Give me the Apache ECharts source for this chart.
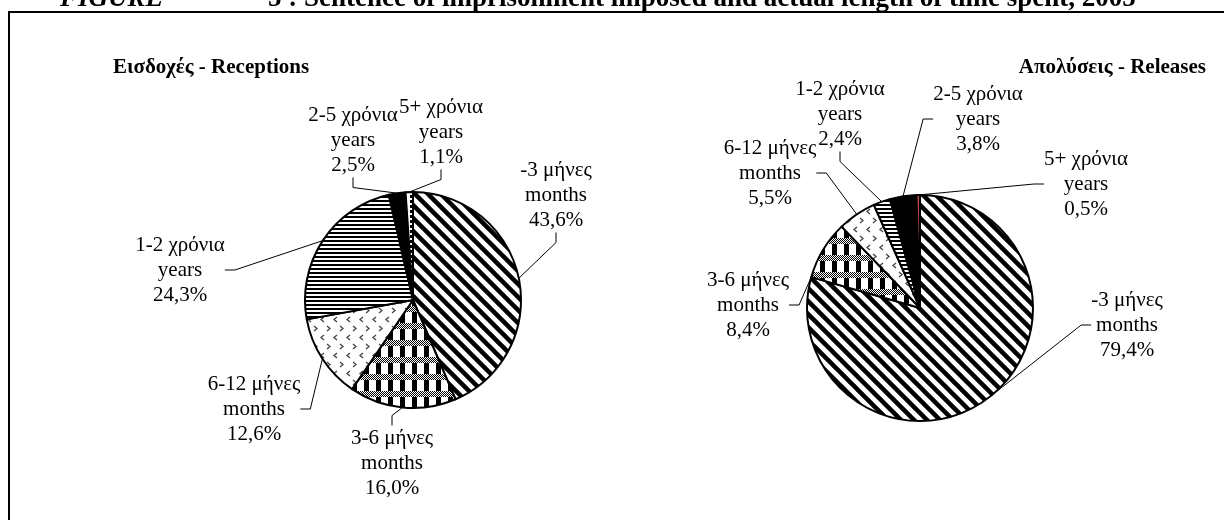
<!DOCTYPE html>
<html>
<head>
<meta charset="utf-8">
<script src="https://cdn.jsdelivr.net/npm/echarts@6/dist/echarts.min.js"></script>
<style>
html,body{margin:0;padding:0;background:#fff;}
#chart{width:1224px;height:520px;}
</style>
</head>
<body>
<div id="chart"></div>
<script>
// ---- data ----
const categories = ['-3 μήνες\nmonths', '3-6 μήνες\nmonths', '6-12 μήνες\nmonths', '1-2 χρόνια\nyears', '2-5 χρόνια\nyears', '5+ χρόνια\nyears'];
const receptionsValues = [43.6, 16.0, 12.6, 24.3, 2.5, 1.1];
const releasesValues = [79.4, 8.4, 5.5, 2.4, 3.8, 0.5];
const figureTitle = '5 : Sentence of imprisonment imposed and actual length of time spent, 2005';
const receptionsTitle = 'Εισδοχές - Receptions';
const releasesTitle = 'Απολύσεις - Releases';

// ---- label positions (centre of label block, px) ----
const receptionsLabelPos = [[556, 195], [392, 463], [254, 409], [180, 270], [353, 140], [441, 132]];
const releasesLabelPos = [[1127, 325], [748, 305], [770, 173], [840, 114], [978, 119], [1086, 184]];

// ---- patterns ----
function tile(w, h, draw) {
  const c = document.createElement('canvas');
  c.width = w; c.height = h;
  const ctx = c.getContext('2d');
  ctx.fillStyle = '#fff';
  ctx.fillRect(0, 0, w, h);
  draw(ctx, w, h);
  return { image: c, repeat: 'repeat' };
}
const diagPattern = tile(13, 13, (ctx, s) => {
  ctx.strokeStyle = '#000'; ctx.lineWidth = 4.5;
  for (const k of [-s, 0, s]) { ctx.beginPath(); ctx.moveTo(k - 2, -2); ctx.lineTo(k + s + 2, s + 2); ctx.stroke(); }
});
const plaidPattern = tile(12, 17, (ctx) => {
  ctx.fillStyle = '#000';
  ctx.fillRect(4, 0, 5, 17);
  for (let y = 0; y < 6; y++) for (let x = 0; x < 12; x++) {
    ctx.fillStyle = ((x + y) % 2 === 0) ? '#000' : '#fff';
    ctx.fillRect(x, y, 1, 1);
  }
});
const chevronPattern = tile(13, 18, (ctx) => {
  ctx.strokeStyle = '#444'; ctx.lineWidth = 1.3;
  ctx.beginPath(); ctx.moveTo(2, 2); ctx.lineTo(5, 4.5); ctx.lineTo(2, 7); ctx.stroke();
  ctx.beginPath(); ctx.moveTo(12, 11); ctx.lineTo(9, 13.5); ctx.lineTo(12, 16); ctx.stroke();
});
const hlinePattern = tile(4, 4, (ctx) => { ctx.fillStyle = '#000'; ctx.fillRect(0, 0, 4, 2); });
const dashPattern = tile(6, 5, (ctx) => { ctx.fillStyle = '#000'; ctx.fillRect(2, 0, 2, 3); });

const receptionsFills = [diagPattern, plaidPattern, chevronPattern, hlinePattern, '#000', dashPattern];
const releasesFills = [diagPattern, plaidPattern, chevronPattern, hlinePattern, '#000', '#c04848'];

const FONT = '"Liberation Serif", "Times New Roman", serif';

function fmt(p) {
  return p.name + '\n' + p.value.toFixed(1).replace('.', ',') + '%';
}
function pieSeries(values, fills, labelPos, center, radius) {
  return {
    type: 'pie',
    center: center,
    radius: radius,
    startAngle: 90,
    clockwise: true,
    avoidLabelOverlap: false,
    animation: false,
    silent: true,
    data: values.map((v, i) => ({ name: categories[i], value: v, itemStyle: { color: fills[i] } })),
    itemStyle: { borderColor: '#000', borderWidth: 2 },
    label: {
      show: true, position: 'outside', formatter: fmt,
      fontFamily: FONT, fontSize: 21, lineHeight: 25, color: '#000', align: 'center'
    },
    labelLine: { show: true, length: 14, length2: 10, smooth: false, lineStyle: { color: '#000', width: 1 } },
    labelLayout: function (params) {
      const p = labelPos[params.dataIndex];
      return { x: p[0], y: p[1], align: 'center', verticalAlign: 'middle' };
    }
  };
}

const chart = echarts.init(document.getElementById('chart'), null, { renderer: 'canvas' });
chart.setOption({
  backgroundColor: '#fff',
  animation: false,
  title: [
    { text: receptionsTitle, left: 113, top: 57, padding: 0, textStyle: { fontFamily: FONT, fontSize: 21, fontWeight: 'bold', color: '#000', lineHeight: 21 } },
    { text: releasesTitle, right: 18, top: 57, padding: 0, textStyle: { fontFamily: FONT, fontSize: 21, fontWeight: 'bold', color: '#000', lineHeight: 21 } }
  ],
  graphic: [
    { type: 'rect', shape: { x: 9, y: 12, width: 1400, height: 700 }, style: { fill: 'none', stroke: '#000', lineWidth: 2 }, silent: true },
    { type: 'text', x: 60, y: 13, style: { text: 'FIGURE', font: 'italic bold 27px ' + FONT, fill: '#000', verticalAlign: 'bottom' }, silent: true },
    { type: 'text', x: 268, y: 13, style: { text: figureTitle, font: 'bold 27px ' + FONT, fill: '#000', verticalAlign: 'bottom' }, silent: true }
  ],
  series: [
    pieSeries(receptionsValues, receptionsFills, receptionsLabelPos, [413, 300], 108),
    pieSeries(releasesValues, releasesFills, releasesLabelPos, [920, 308], 113)
  ]
});
</script>
</body>
</html>
